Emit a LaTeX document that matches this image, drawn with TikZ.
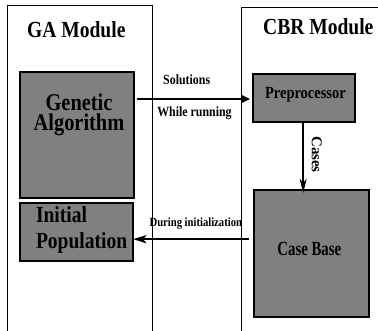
\documentclass[tikz,border=0pt]{standalone}
\usepackage{fontspec}
\setmainfont{Liberation Serif}
\newfontfamily\fa[FakeStretch=0.85]{Liberation Serif Bold}
\newfontfamily\fb[FakeStretch=0.74]{Liberation Serif Bold}
\newfontfamily\fc{Liberation Serif Bold}
\usetikzlibrary{arrows.meta}
\newcommand{\myfs}[2]{\fontsize{#1bp}{#2bp}\selectfont}
\definecolor{boxgray}{HTML}{808080}
\begin{document}
\begin{tikzpicture}[x=1bp,y=-1bp,
  frame/.style={line width=0.8bp,draw=black},
  box/.style={draw=black,line width=1.6bp,fill=boxgray,inner sep=0pt,outer sep=0pt},
  lbl/.style={inner sep=0pt,outer sep=0pt},
  thickarr/.style={line width=2.5bp,-{Triangle[length=9bp,width=8bp]}},
  initarr/.style={line width=2.5bp,-{Stealth[length=13bp,width=8bp,inset=3bp]}},
  casearr/.style={line width=1.5bp,-{Stealth[length=14bp,width=7bp,inset=4bp]}}]
\useasboundingbox (0,0) rectangle (378,331);
% module frames
\draw[frame] (7,332) -- (7,5) -- (152,5) -- (152,332);
\draw[frame] (241,332) -- (241,7) -- (379,7);
\node[lbl,anchor=base,font=\fa\myfs{23}{23}] (gat) at (76.3,37.7) {GA Module};
\node[lbl,anchor=base,font=\fa\myfs{23}{23}] (cbrt) at (318.3,34) {CBR Module};
% boxes
\node[box,minimum width=114bp,minimum height=126bp] (ga) at (77.2,135.2) {};
\node[box,minimum width=113bp,minimum height=58bp] (ip) at (76.7,232.2) {};
\node[box,minimum width=102bp,minimum height=48bp] (pre) at (304.2,98) {};
\node[box,minimum width=115bp,minimum height=127bp] (cb) at (311.5,253.3) {};
% box texts
\node[lbl,align=center,font=\fa\myfs{24}{20}] (gatxt) at (79,114.5) {Genetic\\Algorithm};
\node[lbl,align=left,anchor=west,font=\fa\myfs{23}{26}] (iptxt) at (36,229.9) {Initial\\Population};
\node[lbl,anchor=base,font=\fa\myfs{17}{17}] (pretxt) at (305.4,98.3) {Preprocessor};
\node[lbl,anchor=base,font=\fb\myfs{20}{20}] (cbtxt) at (309.3,255) {Case Base};
% connectors
\draw[thickarr,shorten <=2.5bp,shorten >=3bp] ([yshift=-1bp]ga.east |- pre.west) -- ([yshift=-1bp]pre.west);
\node[lbl,anchor=base,font=\fa\myfs{14}{14}] (sol) at (186.7,84) {Solutions};
\node[lbl,anchor=base,font=\fa\myfs{14}{14}] (wr) at (194.5,116) {While running};
\draw[casearr,shorten >=-3bp] ([xshift=-1bp]pre.south) -- ([xshift=-1bp]pre.south |- cb.north);
\node[lbl,rotate=-90,font=\fc\myfs{15}{15}] (cases) at (316.7,154.5) {Cases};
\draw[initarr,shorten <=5bp] ([yshift=-7bp]cb.west |- ip.east) -- ([yshift=-7bp]ip.east);
\node[lbl,anchor=base,font=\fa\myfs{12.5}{12.5}] (di) at (195.8,226.7) {During initialization};
\end{tikzpicture}
\end{document}
